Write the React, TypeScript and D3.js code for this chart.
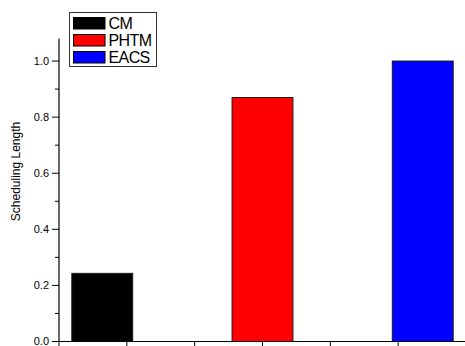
import React from "react";
import * as d3 from "d3";

// Series shown in the chart
const categories = ["CM", "PHTM", "EACS"];
const values = [0.243, 0.87, 1.0];
const colors = ["#000000", "#ff0000", "#0000ff"];
const yMajorTicks = [0, 0.2, 0.4, 0.6, 0.8, 1.0];
const yMinorTicks = [0.1, 0.3, 0.5, 0.7, 0.9];
const yLabel = "Scheduling Length";

const W = 465;
const H = 346;
const FONT = "'Liberation Sans', Arial, Helvetica, sans-serif";

export default function App() {
  const left = 59;
  const right = 466;
  const bottom = 341.5;
  const top = 38.6;

  // Categories sit at 1, 2, 3 on a continuous x axis
  const x = d3.scaleLinear().domain([0.73, 3.27]).range([left, right]);
  const y = d3.scaleLinear().domain([0, 1.08]).range([bottom, top]);
  const barW = 0.38;

  const [x0, x1] = x.domain();
  const xTicks = d3.range(7).map((i) => x0 + ((x1 - x0) * i) / 6);

  const legendX = 69.5;
  const legendY = 12.5;
  const rowH = 17;

  return (
    <svg
      width={W}
      height={H}
      style={{ position: "fixed", left: 0, top: 0, background: "#fff" }}
      fontFamily={FONT}
    >
      <rect x={0} y={0} width={W} height={H} fill="#fff" />

      {/* bars */}
      {categories.map((c, i) => {
        const cx = i + 1;
        const bx = x(cx - barW / 2);
        const bw = x(cx + barW / 2) - bx;
        return (
          <rect
            key={c}
            x={bx}
            y={y(values[i])}
            width={bw}
            height={y(0) - y(values[i])}
            fill={colors[i]}
            stroke="#1a1a1a"
            strokeWidth={1}
          />
        );
      })}

      {/* y axis */}
      <line x1={left} x2={left} y1={top} y2={bottom} stroke="#000" strokeWidth={1.2} />
      {yMajorTicks.map((t) => (
        <g key={t}>
          <line x1={left - 7} x2={left} y1={y(t)} y2={y(t)} stroke="#000" strokeWidth={1} />
          <text
            x={left - 10}
            y={y(t)}
            dy="0.35em"
            textAnchor="end"
            fontSize={11}
            fill="#000"
          >
            {d3.format(".1f")(t)}
          </text>
        </g>
      ))}
      {yMinorTicks.map((t) => (
        <line key={t} x1={left - 4} x2={left} y1={y(t)} y2={y(t)} stroke="#000" strokeWidth={1} />
      ))}
      <text
        transform={`translate(20,171.5) rotate(-90)`}
        textAnchor="middle"
        fontSize={12}
        fill="#000"
      >
        {yLabel}
      </text>

      {/* x axis */}
      <line x1={left} x2={W + 2} y1={bottom} y2={bottom} stroke="#000" strokeWidth={1.2} />
      {xTicks.map((t, i) => (
        <line key={i} x1={x(t)} x2={x(t)} y1={bottom} y2={bottom + 6} stroke="#000" strokeWidth={1} />
      ))}

      {/* legend */}
      <rect
        x={legendX}
        y={legendY}
        width={87}
        height={54}
        fill="#fff"
        stroke="#333"
        strokeWidth={1}
      />
      {categories.map((c, i) => {
        const ry = legendY + 5 + i * rowH;
        return (
          <g key={c}>
            <rect
              x={legendX + 4}
              y={ry}
              width={31.5}
              height={11.5}
              fill={colors[i]}
              stroke="#000"
              strokeWidth={1}
            />
            <text
              x={legendX + 39}
              y={ry + 11.3}
              fontSize={16}
              fill="#000"
              letterSpacing={-0.6}
            >
              {c}
            </text>
          </g>
        );
      })}
    </svg>
  );
}
